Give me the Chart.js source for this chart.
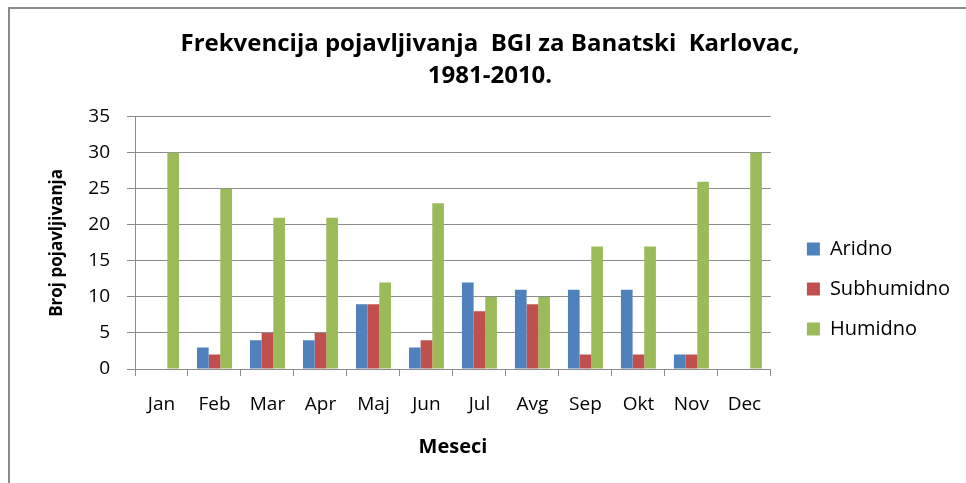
<!DOCTYPE html>
<html>
<head>
<meta charset="utf-8">
<script src="https://cdn.jsdelivr.net/npm/chart.js@4.4.1/dist/chart.umd.min.js"></script>
<style>
  html, body { margin: 0; padding: 0; background: #fff; }
  canvas { display: block; }
</style>
</head>
<body>
<canvas id="bgiChart" width="966" height="483"></canvas>
<script>
// Podaci (ocitani sa grafika)
const meseci = ['Jan', 'Feb', 'Mar', 'Apr', 'Maj', 'Jun', 'Jul', 'Avg', 'Sep', 'Okt', 'Nov', 'Dec'];
const aridno = [0, 3, 4, 4, 9, 3, 12, 11, 11, 11, 2, 0];
const subhumidno = [0, 2, 5, 5, 9, 4, 8, 9, 2, 2, 2, 0];
const humidno = [30, 25, 21, 21, 12, 23, 10, 10, 17, 17, 26, 30];
const yMin = 0, yMax = 35, yStep = 5;

const gridColor = '#8c8c8c';
const font = 'Open Sans';

// okvir oko grafika (levo i gore, kao u Excelu)
const frame = {
  id: 'frame',
  beforeDraw(chart) {
    const ctx = chart.ctx;
    ctx.save();
    ctx.strokeStyle = '#8a8a8a';
    ctx.lineWidth = 2;
    ctx.beginPath();
    ctx.moveTo(9, chart.height);
    ctx.lineTo(9, 8);
    ctx.lineTo(chart.width, 8);
    ctx.stroke();
    ctx.restore();
  }
};

// legenda malo nize, kao na originalu
const legendSpot = {
  id: 'legendSpot',
  afterLayout(chart) {
    const lg = chart.legend;
    if (!lg) return;
    const h = lg.bottom - lg.top;
    lg.top = 219;
    lg.bottom = lg.top + h;
  }
};

const ctx = document.getElementById('bgiChart').getContext('2d');
new Chart(ctx, {
  type: 'bar',
  data: {
    labels: meseci,
    datasets: [
      { label: 'Aridno', data: aridno, backgroundColor: '#4F81BD' },
      { label: 'Subhumidno', data: subhumidno, backgroundColor: '#C0504D' },
      { label: 'Humidno', data: humidno, backgroundColor: '#9BBB59' }
    ]
  },
  options: {
    responsive: false,
    animation: false,
    layout: { padding: { left: 20, right: 6, top: 0, bottom: 0 } },
    datasets: {
      bar: { barPercentage: 1, categoryPercentage: 0.66, borderWidth: 0 }
    },
    scales: {
      x: {
        grid: { drawOnChartArea: false, color: gridColor, tickLength: 7, offset: true },
        border: { color: gridColor },
        ticks: { color: '#000', padding: 17, font: { family: font, size: 19 } },
        title: {
          display: true,
          text: 'Meseci',
          color: '#000',
          font: { family: font, size: 20, weight: 'bold' },
          padding: { top: 0, bottom: 24 }
        },
        afterFit(scale) { scale.height = 114; }
      },
      y: {
        min: yMin,
        max: yMax,
        grid: { color: gridColor, tickLength: 8 },
        border: { color: gridColor },
        ticks: { stepSize: yStep, color: '#000', padding: 17, font: { family: font, size: 19 } },
        title: {
          display: true,
          text: 'Broj pojavljivanja',
          color: '#000',
          font: { family: font, size: 17, weight: 'bold' },
          padding: { top: 27, bottom: 0 }
        },
        afterFit(scale) { scale.width = 115; }
      },
      gap: {
        type: 'linear',
        position: 'right',
        grid: { display: false },
        ticks: { display: false },
        border: { display: false },
        afterFit(scale) { scale.width = 16; }
      }
    },
    plugins: {
      title: {
        display: true,
        text: ['Frekvencija pojavljivanja  BGI za Banatski  Karlovac,', '1981-2010.'],
        color: '#000',
        font: { family: font, size: 24, weight: 'bold', lineHeight: 1.35 },
        padding: { top: 28, bottom: 24 }
      },
      legend: {
        position: 'right',
        align: 'start',
        maxWidth: 300,
        labels: {
          boxWidth: 13,
          boxHeight: 13,
          padding: 20,
          color: '#000',
          font: { family: font, size: 20 }
        }
      },
      tooltip: { enabled: false }
    }
  },
  plugins: [frame, legendSpot]
});
</script>
</body>
</html>
